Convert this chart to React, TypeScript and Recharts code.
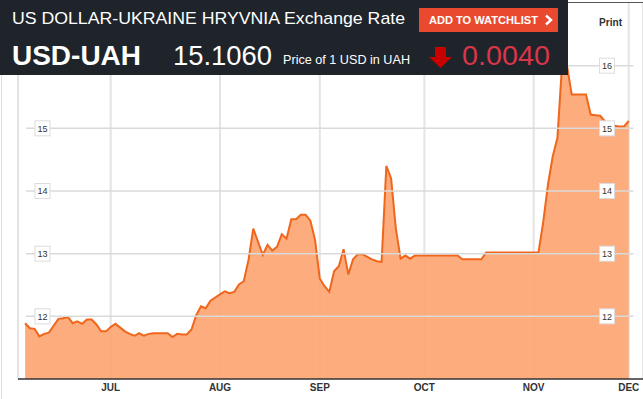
import { AreaChart, Area, XAxis, YAxis, CartesianGrid, ReferenceLine } from "recharts";

// trading days, early June -> Dec 1
const rates = [
  11.89, 11.81, 11.8, 11.68, 11.72, 11.74, 11.85, 11.96, 11.97, 11.99,
  11.89, 11.92, 11.88, 11.95, 11.95, 11.87, 11.76, 11.76, 11.83, 11.88,
  11.82, 11.76, 11.72, 11.69, 11.73, 11.69, 11.72, 11.73, 11.73, 11.73,
  11.73, 11.67, 11.72, 11.71, 11.71, 11.79, 12.02, 12.16, 12.13, 12.25,
  12.3, 12.35, 12.4, 12.37, 12.39, 12.51, 12.56, 12.9, 13.4, 13.19,
  12.98, 13.14, 13.05, 13.11, 13.31, 13.24, 13.55, 13.55, 13.62, 13.62,
  13.53, 13.22, 12.6, 12.48, 12.39, 12.72, 12.8, 13.07, 12.67, 12.91,
  12.99, 12.99, 12.95, 12.91, 12.88, 12.87, 14.4, 14.2, 13.4, 12.92,
  12.97, 12.92, 12.97, 12.97, 12.97, 12.97, 12.97, 12.97, 12.97, 12.97,
  12.97, 12.97, 12.91, 12.91, 12.91, 12.91, 12.91, 13.02, 13.02, 13.02,
  13.02, 13.02, 13.02, 13.02, 13.02, 13.02, 13.02, 13.02, 13.02, 13.5,
  14.1, 14.55, 14.85, 16.05, 16.0, 15.54, 15.54, 15.54, 15.54, 15.22,
  15.21, 15.2, 15.11, 15.08, 15.04, 15.03, 15.03, 15.12,
];

const monthTicks = [18, 41, 62, 84, 107, 127];
const monthLabels = ["JUL", "AUG", "SEP", "OCT", "NOV", "DEC"];
const rateTicks = [12, 13, 14, 15, 16];

const data = rates.map((rate, day) => ({ day, rate }));

const FONT = "'Liberation Sans', Arial, sans-serif";

// little boxed labels on both sides of the plot; the left 16 sits under the header
function renderRateTick(props: any) {
  const { y, payload } = props;
  const spots = payload.value >= 16 ? [607] : [42.5, 607];
  return (
    <g key={`rt-${payload.value}`}>
      {spots.map((cx) => (
        <g key={cx}>
          <rect x={cx - 7.5} y={y - 7.5} width={15} height={15} fill="#fff" stroke="#dcdcdc" />
          <text x={cx} y={y + 3.3} textAnchor="middle" fontSize={9} fill="#333" fontFamily={FONT}>
            {payload.value}
          </text>
        </g>
      ))}
    </g>
  );
}

function Header() {
  return (
    <svg width={643} height={80} style={{ position: "absolute", left: 0, top: 0 }} fontFamily={FONT}>
      <rect x={0} y={0} width={568} height={75} fill="#1f242b" />
      <text x={12} y={24} fontSize={17} fill="#fff" textLength={393} lengthAdjust="spacingAndGlyphs">
        US DOLLAR-UKRAINE HRYVNIA Exchange Rate
      </text>
      <rect x={419} y={8} width={139} height={24} fill="#e9492f" />
      <text x={429} y={24} fontSize={11} fontWeight="bold" fill="#fff" textLength={109} lengthAdjust="spacingAndGlyphs">
        ADD TO WATCHLIST
      </text>
      <polyline points="546,15.5 551,20 546,24.5" fill="none" stroke="#fff" strokeWidth={2.4} />
      <text x={12} y={65} fontSize={27} fontWeight="bold" fill="#fff" textLength={129} lengthAdjust="spacingAndGlyphs">
        USD-UAH
      </text>
      <text x={173} y={65} fontSize={27} fill="#fff" textLength={99} lengthAdjust="spacingAndGlyphs">
        15.1060
      </text>
      <text x={283} y={64} fontSize={12} fill="#fff" textLength={127} lengthAdjust="spacingAndGlyphs">
        Price of 1 USD in UAH
      </text>
      <polygon points="435,47 446,47 446,57 452,57 440.5,68 429,57 435,57" fill="#c70000" />
      <text x={462} y={65} fontSize={27} fill="#d9364a" textLength={88} lengthAdjust="spacingAndGlyphs">
        0.0040
      </text>
      <text x={599} y={26} fontSize={10} fontWeight="bold" fill="#333" textLength={23} lengthAdjust="spacingAndGlyphs">
        Print
      </text>
    </svg>
  );
}

export default function App() {
  return (
    <div style={{ position: "absolute", left: 0, top: 0, width: 643, height: 399, background: "#fff", overflow: "hidden" }}>
      <div style={{ position: "absolute", left: 0, top: 2, width: 643, height: 1, background: "#555" }} />
      <div style={{ position: "absolute", left: 1, top: 0, width: 1, height: 399, background: "#e0e0e0" }} />
      <AreaChart width={643} height={399} data={data} margin={{ top: 3, right: 0, bottom: 0, left: 0 }}>
        <CartesianGrid horizontal={false} stroke="#e4e4e4" strokeWidth={2} />
        {rateTicks.map((t) => (
          <ReferenceLine
            key={t}
            segment={[{ x: 0.2, y: t }, { x: 128, y: t }]}
            stroke="#dadada"
            strokeWidth={1.5}
          />
        ))}
        <Area
          type="linear"
          dataKey="rate"
          stroke="#ef661c"
          strokeWidth={2}
          fill="#fca36f"
          fillOpacity={0.9}
          baseValue={11}
          isAnimationActive={false}
        />
        <XAxis
          dataKey="day"
          type="number"
          domain={[-1.5, 130]}
          ticks={monthTicks}
          tickFormatter={(v: number) => monthLabels[monthTicks.indexOf(v)]}
          height={20}
          tickSize={0}
          tickMargin={5}
          axisLine={{ stroke: "#333", strokeWidth: 1.5 }}
          tickLine={false}
          tick={{ fontSize: 10, fontWeight: "bold", fill: "#333", fontFamily: FONT }}
        />
        <YAxis
          domain={[11, 17]}
          ticks={rateTicks}
          interval={0}
          width={18}
          axisLine={false}
          tickLine={false}
          tick={renderRateTick}
        />
      </AreaChart>
      <Header />
    </div>
  );
}
